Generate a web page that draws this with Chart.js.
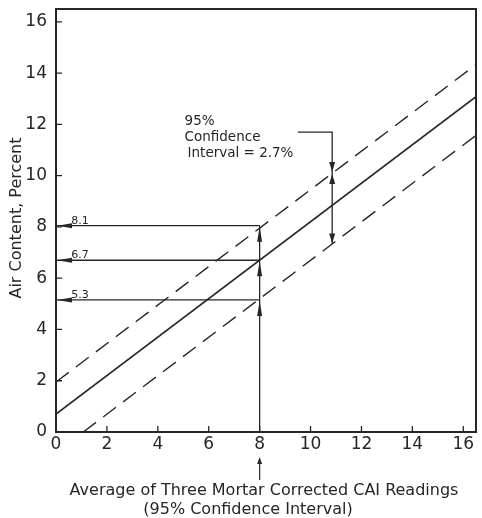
<!DOCTYPE html>
<html>
<head>
<meta charset="utf-8">
<script src="https://cdn.jsdelivr.net/npm/chart.js@4"></script>
<style>
  html, body { margin: 0; padding: 0; background: #fff; }
  #chart { display: block; }
</style>
</head>
<body>
<canvas id="chart" width="482" height="518"></canvas>
<script>
// Air content vs. averaged CAI readings, with 95% confidence band

const xTicks = [0, 2, 4, 6, 8, 10, 12, 14, 16];
const yTicks = [0, 2, 4, 6, 8, 10, 12, 14, 16];

// regression line and confidence limits
const fitX = [0, 16.5];
const fitY = [0.7, 13.08];
const upperX = [0, 16.5];
const upperY = [1.95, 14.33];
const lowerX = [1.07, 16.5];
const lowerY = [0, 11.57];

// reading example at x = 8
const readAt = 8;
const readValues = [8.05, 6.7, 5.15];
const readLabels = ['8.1', '6.7', '5.3'];

// confidence interval bracket
const ciX = 10.85;
const ciTop = 11.7;
const ciLeft = 9.5;
const ciHigh = 10.1;
const ciLow = 7.35;
const ciText = ['95%', 'Confidence', 'Interval = 2.7%'];

const xTitle = ['Average of Three Mortar Corrected CAI Readings', '(95% Confidence Interval)'];
const yTitle = 'Air Content, Percent';

const ink = '#262626';
const font = 'DejaVu Sans';

function pts(xs, ys) {
    return xs.map((x, i) => ({ x: x, y: ys[i] }));
}

function arrowHead(ctx, x, y, dir, len, half) {
    ctx.beginPath();
    ctx.moveTo(x, y);
    if (dir === 'left') { ctx.lineTo(x + len, y - half); ctx.lineTo(x + len, y + half); }
    if (dir === 'up') { ctx.lineTo(x - half, y + len); ctx.lineTo(x + half, y + len); }
    if (dir === 'down') { ctx.lineTo(x - half, y - len); ctx.lineTo(x + half, y - len); }
    ctx.closePath();
    ctx.fill();
}

const readDatasets = readValues.map(v => ({
    data: [{ x: readAt, y: v }, { x: 0, y: v }],
    borderColor: ink, borderWidth: 1.3
}));

const decorations = {
    id: 'decorations',
    afterDatasetsDraw(chart) {
        const ctx = chart.ctx;
        const a = chart.chartArea;
        const xs = chart.scales.x;
        const ys = chart.scales.y;
        ctx.save();
        ctx.strokeStyle = ink;
        ctx.fillStyle = ink;

        // frame
        ctx.lineWidth = 2;
        ctx.strokeRect(a.left, a.top, a.right - a.left, a.bottom - a.top);

        // inward tick marks
        ctx.lineWidth = 1.3;
        ctx.beginPath();
        xTicks.forEach(v => {
            const px = xs.getPixelForValue(v);
            ctx.moveTo(px, a.bottom);
            ctx.lineTo(px, a.bottom - 6);
        });
        yTicks.forEach(v => {
            const py = ys.getPixelForValue(v);
            ctx.moveTo(a.left, py);
            ctx.lineTo(a.left + 6, py);
        });
        ctx.stroke();

        // reading arrows and labels
        const rx = xs.getPixelForValue(readAt);
        ctx.font = '11px "' + font + '"';
        ctx.textAlign = 'left';
        ctx.textBaseline = 'alphabetic';
        readValues.forEach((v, i) => {
            const py = ys.getPixelForValue(v);
            arrowHead(ctx, a.left + 1, py, 'left', 15, 2.5);
            arrowHead(ctx, rx, py + 1, 'up', 15, 2.5);
            ctx.fillText(readLabels[i], xs.getPixelForValue(0.6), py - 2);
        });

        // confidence interval arrows
        const cx = xs.getPixelForValue(ciX);
        arrowHead(ctx, cx, ys.getPixelForValue(ciHigh) - 1, 'down', 10, 3);
        arrowHead(ctx, cx, ys.getPixelForValue(ciHigh) + 1, 'up', 10, 3);
        arrowHead(ctx, cx, ys.getPixelForValue(ciLow), 'down', 10, 3);

        // confidence text
        ctx.font = '13.5px "' + font + '"';
        ctx.textBaseline = 'middle';
        const tx = xs.getPixelForValue(5.05);
        const ty = ys.getPixelForValue(11.5);
        ctx.fillText(ciText[0], tx, ty - 16);
        ctx.fillText(ciText[1], tx, ty);
        ctx.fillText(ciText[2], tx + 3, ty + 16);

        // arrow under the x axis at the reading
        ctx.lineWidth = 1.2;
        ctx.beginPath();
        ctx.moveTo(rx, 480);
        ctx.lineTo(rx, 462);
        ctx.stroke();
        arrowHead(ctx, rx, 457, 'up', 7, 2.5);

        // axis titles
        ctx.font = '16px "' + font + '"';
        ctx.textAlign = 'center';
        ctx.fillText(xTitle[0], 264, 491);
        ctx.fillText(xTitle[1], 248, 510);

        ctx.translate(17, 218);
        ctx.rotate(-Math.PI / 2);
        ctx.fillText(yTitle, 0, 0);
        ctx.restore();
    }
};

new Chart(document.getElementById('chart'), {
    type: 'scatter',
    data: {
        datasets: [
            { data: pts(fitX, fitY), borderColor: ink, borderWidth: 1.6 },
            { data: pts(upperX, upperY), borderColor: ink, borderWidth: 1.4, borderDash: [16, 9] },
            { data: pts(lowerX, lowerY), borderColor: ink, borderWidth: 1.4, borderDash: [16, 9] },
            ...readDatasets,
            {
                data: [{ x: readAt, y: 0 }, { x: readAt, y: Math.max(...readValues) }],
                borderColor: ink, borderWidth: 1.3
            },
            {
                data: [{ x: ciLeft, y: ciTop }, { x: ciX, y: ciTop }, { x: ciX, y: ciLow }],
                borderColor: ink, borderWidth: 1.3
            }
        ].map(ds => Object.assign({ showLine: true, pointRadius: 0, fill: false, tension: 0 }, ds))
    },
    options: {
        responsive: false,
        animation: false,
        devicePixelRatio: 1,
        layout: { padding: { left: 0, right: 6, top: 9, bottom: 0 } },
        plugins: {
            legend: { display: false },
            tooltip: { enabled: false }
        },
        scales: {
            x: {
                type: 'linear',
                min: 0,
                max: 16.5,
                afterBuildTicks: scale => { scale.ticks = xTicks.map(v => ({ value: v })); },
                afterFit: scale => {
                    scale.height = 86;
                    scale.paddingLeft = 0;
                    scale.paddingRight = 0;
                },
                grid: { display: false, drawTicks: false },
                border: { display: false },
                ticks: {
                    color: ink,
                    font: { family: font, size: 17 },
                    padding: 2,
                    maxRotation: 0,
                    autoSkip: false
                }
            },
            y: {
                type: 'linear',
                min: 0,
                max: 16.5,
                afterBuildTicks: scale => { scale.ticks = yTicks.map(v => ({ value: v })); },
                afterFit: scale => {
                    scale.width = 56;
                    scale.paddingTop = 0;
                    scale.paddingBottom = 0;
                },
                grid: { display: false, drawTicks: false },
                border: { display: false },
                ticks: {
                    color: ink,
                    font: { family: font, size: 17 },
                    padding: 9,
                    autoSkip: false
                }
            }
        }
    },
    plugins: [decorations]
});
</script>
</body>
</html>
